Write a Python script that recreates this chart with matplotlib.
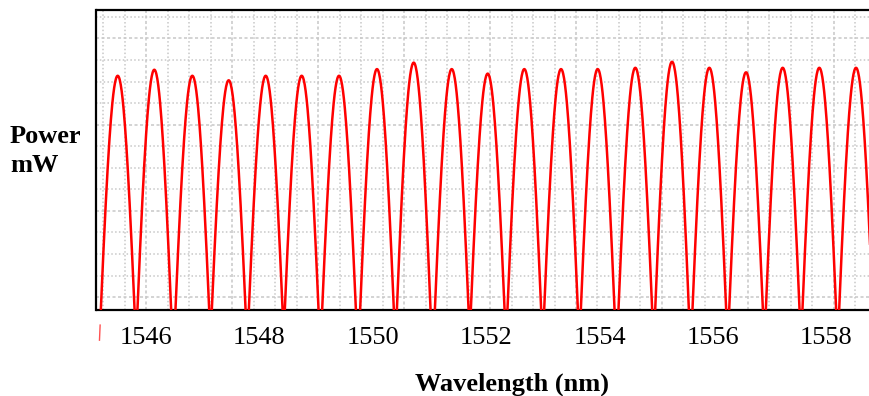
import numpy as np
import matplotlib
matplotlib.use("Agg")
import matplotlib.pyplot as plt

# peak wavelengths (nm) and peak powers (mW)
peak_wl = [1545.51, 1546.155, 1546.825, 1547.466, 1548.118, 1548.752, 1549.41,
           1550.079, 1550.726, 1551.396, 1552.03, 1552.675, 1553.322, 1553.968,
           1554.631, 1555.278, 1555.935, 1556.582, 1557.228, 1557.873, 1558.52]
peak_mw = [1.027, 1.055, 1.027, 1.006, 1.027, 1.027, 1.027,
           1.058, 1.088, 1.058, 1.037, 1.058, 1.058, 1.058,
           1.064, 1.092, 1.064, 1.043, 1.064, 1.064, 1.064]
xticks = [1546, 1548, 1550, 1552, 1554, 1556, 1558]

spacing = 0.6505   # channel spacing, nm
floor = 0.18       # fraction of each lobe below zero

# build the comb trace lobe by lobe
wl, pw = [], []
for c, h in zip(peak_wl, peak_mw):
    u = np.linspace(-0.5, 0.5, 80)
    wl.append(c + u * spacing)
    pw.append(h * (np.cos(np.pi * u) - floor) / (1 - floor))
first_wl, first_pw = wl[0][:40], pw[0][:40]   # rising side of first lobe
wl = np.concatenate(wl)
pw = np.concatenate(pw)

plt.rcParams['font.family'] = ['Liberation Serif', 'DejaVu Serif']

fig = plt.figure(figsize=(8.7, 3.96), dpi=100)
ax = fig.add_axes([96.5 / 870, 1 - 310 / 396, (927 - 96.5) / 870, 300 / 396])

x_left = 1546 + (96.5 - 145.5) / 56.75
x_right = 1546 + (927 - 145.5) / 56.75
ax.set_xlim(x_left, x_right)
ax.set_ylim(-0.06, -0.06 + 300 / 215.5)

# grid: dotted minor lines, dashed every 4th
gx0 = 1546 + (103.3 - 145.5) / 56.75
gdx = 21.486 / 56.75
for k in range(0, 45):
    gx = gx0 + k * gdx
    if gx > x_right:
        break
    ls = (0, (2, 1.6)) if k % 4 == 2 else (0, (1, 1.5))
    ax.axvline(gx, color='#c8c8c8', lw=1.1, ls=ls, zorder=0)
for k in range(0, 14):
    gy = k * 0.1
    ls = (0, (2, 1.6)) if k % 4 == 0 else (0, (1, 1.5))
    ax.axhline(gy, color='#c8c8c8', lw=1.1, ls=ls, zorder=0)

ax.plot(wl, pw, color='red', lw=1.8, zorder=3)

# stray bit of the first lobe showing under the axis
stray_y = np.array([-0.20, -0.13])
stray_x = np.interp(stray_y, first_pw, first_wl)
ax.plot(stray_x, stray_y, color='#ff5050', lw=1.0, clip_on=False)

for s in ['top', 'left', 'bottom']:
    ax.spines[s].set_linewidth(1.6)
    ax.spines[s].set_color('black')
ax.spines['right'].set_visible(False)

ax.set_xticks(xticks)
ax.set_xticklabels([str(t) for t in xticks], fontsize=19)
ax.tick_params(axis='x', length=0, pad=12)
ax.set_yticks([])

fig.text(10 / 870, 1 - 143 / 396, "Power", fontsize=19, fontweight='bold',
         ha='left', va='baseline')
fig.text(10 / 870, 1 - 172 / 396, "mW", fontsize=19, fontweight='bold',
         ha='left', va='baseline')
fig.text(512 / 870, 1 - 391 / 396, "Wavelength (nm)", fontsize=19,
         fontweight='bold', ha='center', va='baseline')

plt.savefig("out.png", dpi=100)
